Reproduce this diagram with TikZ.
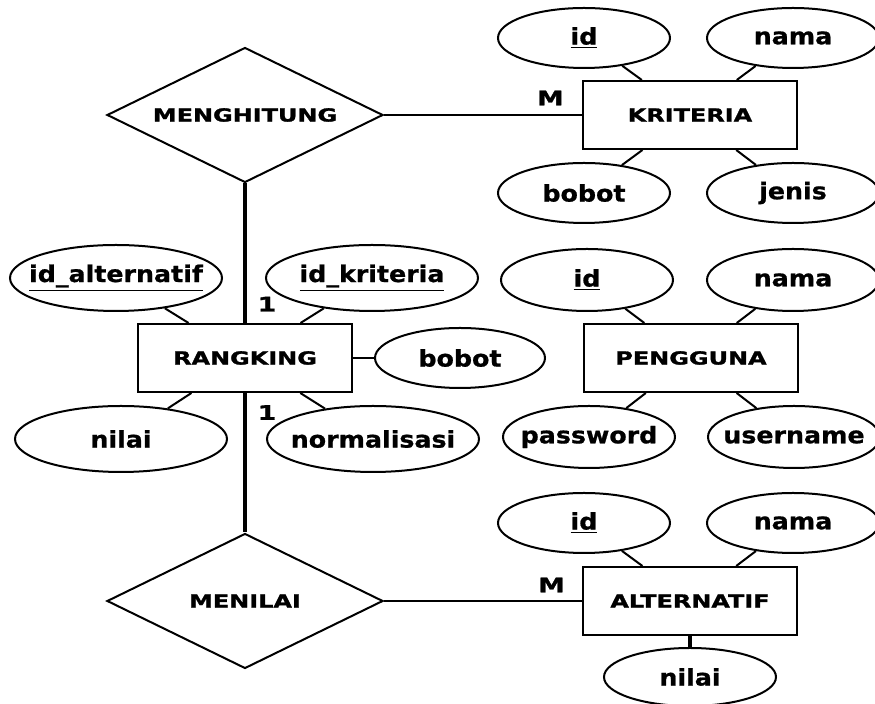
\documentclass[tikz,border=0pt]{standalone}
\usepackage{fontspec}
\usepackage{tikz}
\newfontfamily\entfont{DejaVu Sans}[FakeStretch=1.33, FakeBold=1.5]
\newfontfamily\attrfont{DejaVu Sans}[FakeStretch=1.1, FakeBold=0.8]
\usetikzlibrary{shapes.geometric, positioning}
\tikzstyle{entity} = [rectangle, draw = black, line width=1pt, minimum width=107pt, minimum height=34pt, inner sep=0pt, font=\entfont\bfseries\fontsize{9}{10}\selectfont]
\tikzstyle{relation} = [diamond, draw = black, line width=1pt, aspect=2, minimum width=138pt, minimum height=67.5pt, inner sep=0pt, font=\entfont\bfseries\fontsize{9}{10}\selectfont]
\tikzstyle{attr} = [ellipse, draw = black, line width=1pt, minimum width=86pt, minimum height=30pt, inner sep=0pt, inner xsep=-8pt, font=\attrfont\bfseries\fontsize{11.5}{13}\selectfont]
\tikzstyle{wideattr} = [attr, minimum width=106pt, minimum height=33pt]
\tikzstyle{card} = [inner sep=0pt, font=\entfont\bfseries\fontsize{10}{11}\selectfont]
\tikzstyle{link} = [line width=1pt]
\tikzstyle{vlink} = [line width=1.8pt]

\begin{document}
\begin{tikzpicture}[x=0.5pt, y=-0.5pt, on grid]
			\useasboundingbox (0,0) rectangle (875,704);

			%--Relations--%
			\node(hitung)[relation] at (245,115) {MENGHITUNG};
			\node(menilai)[relation, below=243pt of hitung] {MENILAI};

			%--Entities--%
			\node(krit)[entity, right=222.5pt of hitung] {KRITERIA};
			\node(rang)[entity, below=121.5pt of hitung] {RANGKING};
			\node(peng)[entity, right=223pt of rang] {PENGGUNA};
			\node(alt)[entity, right=222.5pt of menilai] {ALTERNATIF};

			%--Kriteria Attributes--%
			\node(kid)[attr, above left=38.5pt and 53pt of krit] {\underline{id}};
			\node(knama)[attr, above right=38.5pt and 51.5pt of krit] {nama};
			\node(kbobot)[attr, below left=39pt and 53pt of krit] {bobot};
			\node(kjenis)[attr, below right=39pt and 51.5pt of krit] {jenis};

			%--Rangking Attributes--%
			\node(raid)[wideattr, above left=40pt and 64.5pt of rang] {\underline{id\_alternatif}};
			\node(rkid)[wideattr, above right=40pt and 63.5pt of rang] {\underline{id\_kriteria}};
			\node(rnilai)[wideattr, below left=40.5pt and 62pt of rang] {nilai};
			\node(rnorm)[wideattr, below right=40.5pt and 64pt of rang] {normalisasi};
			\node(rbobot)[attr, minimum width=85pt, right=107.5pt of rang] {bobot};

			%--Pengguna Attributes--%
			\node(pid)[attr, minimum height=31pt, above left=39pt and 52pt of peng] {\underline{id}};
			\node(pnama)[attr, minimum height=31pt, above right=39pt and 51pt of peng] {nama};
			\node(ppass)[attr, minimum height=31pt, below left=39.5pt and 51pt of peng] {password};
			\node(puser)[attr, minimum height=31pt, below right=39.5pt and 51.5pt of peng] {username};

			%--Alternatif Attributes--%
			\node(aid)[attr, above left=39pt and 53pt of alt] {\underline{id}};
			\node(anama)[attr, above right=39pt and 51.5pt of alt] {nama};
			\node(anilai)[attr, minimum height=29pt, below=38pt of alt] {nilai};

			%--Relationship Lines--%
			\draw[link] (hitung) -- node[card, pos=0.84, yshift=8.5pt]{M} (krit);
			\draw[vlink] (hitung) -- node[card, pos=0.865, xshift=11pt]{1} (rang);
			\draw[vlink] (rang) -- node[card, pos=0.14, xshift=11pt]{1} (menilai);
			\draw[link] (menilai) -- node[card, pos=0.846, yshift=8pt]{M} (alt);

			%--Attribute Lines--%
			\foreach \a in {kid, knama, kbobot, kjenis}
				\draw[link] (\a) -- (krit);
			\foreach \a in {raid, rkid, rnilai, rnorm, rbobot}
				\draw[link] (\a) -- (rang);
			\foreach \a in {pid, pnama, ppass, puser}
				\draw[link] (\a) -- (peng);
			\draw[link] (aid) -- (alt);
			\draw[link] (anama) -- (alt);
			\draw[vlink] (anilai) -- (alt);
\end{tikzpicture}
\end{document}
